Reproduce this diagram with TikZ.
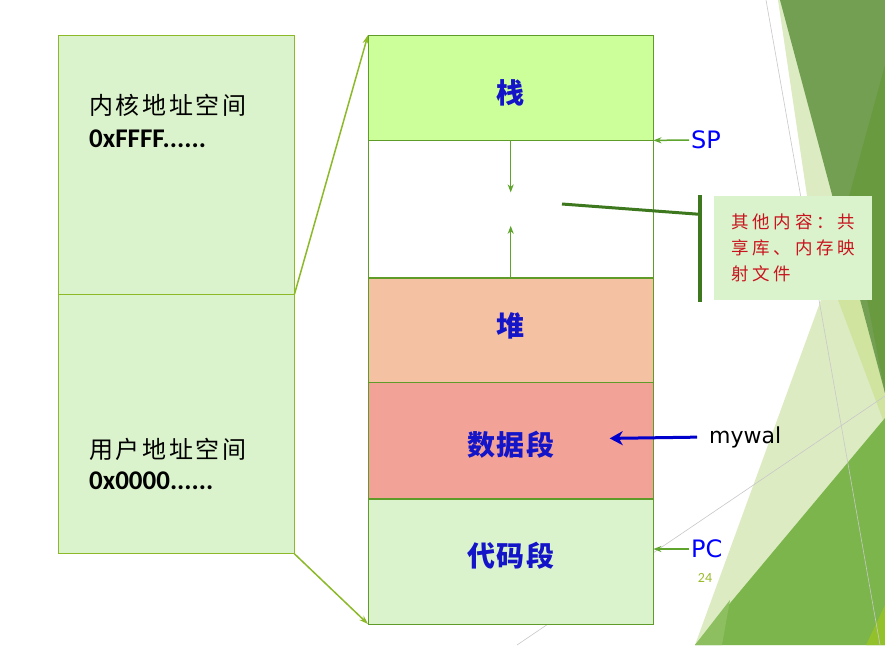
\documentclass[tikz,border=0pt]{standalone}
\usepackage{fontspec}
\setmainfont{Liberation Sans}
\newfontfamily\cjk{Noto Sans CJK SC}[LetterSpace=5]
\newfontfamily\cjkwide{Noto Sans CJK SC}[LetterSpace=11]
\newfontfamily\cjknote{Noto Sans CJK SC}[LetterSpace=22]
\newfontfamily\calibri{Carlito}
\newfontfamily\regfont{DejaVu Sans}
\usetikzlibrary{positioning,calc,arrows.meta}

\definecolor{boxgreen}{RGB}{219,243,204}
\definecolor{stackline}{RGB}{95,155,40}
\definecolor{linkline}{RGB}{140,185,40}
\definecolor{stackfill}{RGB}{204,255,153}
\definecolor{heapfill}{RGB}{244,194,163}
\definecolor{datafill}{RGB}{242,162,150}
\definecolor{labelblue}{RGB}{20,20,200}
\definecolor{growgreen}{RGB}{95,165,45}
\definecolor{bargreen}{RGB}{62,120,30}
\definecolor{notered}{RGB}{200,20,30}
\definecolor{pagenum}{RGB}{155,187,43}
\definecolor{bglight}{RGB}{221,235,195}
\definecolor{bgstrip}{RGB}{208,228,160}
\definecolor{bgdark}{RGB}{115,159,83}
\definecolor{bgdarker}{RGB}{106,154,63}
\definecolor{bggreen}{RGB}{123,181,75}
\definecolor{bgpale}{RGB}{141,191,97}
\definecolor{bgcorner}{RGB}{147,193,44}
\definecolor{bgline}{RGB}{200,200,200}

\begin{document}
\begin{tikzpicture}[x=1pt,y=-1pt,node distance=0pt,
  seg/.style={draw=stackline, minimum width=285pt, inner sep=0pt},
  seglabel/.style={font=\cjk\bfseries\fontsize{28}{28}\selectfont, text=labelblue},
  half/.style={draw=linkline, fill=boxgreen, minimum width=236pt,
    minimum height=259pt, inner sep=0pt},
  cnlabel/.style={inner sep=0pt, font=\cjkwide\fontsize{24}{24}\selectfont},
  hexlabel/.style={inner sep=0pt, font=\calibri\bfseries\fontsize{27}{27}\selectfont},
  reg/.style={inner sep=2pt, text=blue, font=\regfont\fontsize{24}{24}\selectfont},
  growarrow/.style={draw=growgreen, line width=1.5pt, -{Stealth[length=8pt,width=6pt,inset=2.5pt]}},
  link/.style={draw=linkline, line width=1.5pt, -{Stealth[length=9pt,width=6pt]}}]
    \useasboundingbox (0,0) rectangle (885,645);
    \fill[white] (0,0) rectangle (885,645);
    % slide background
    \fill[bglight] (778,0) -- (822,297) -- (695,645) -- (885,645) -- (885,0) -- cycle;
    \fill[bgstrip] (832,195) -- (885,393) -- (885,425) -- (838,300) -- cycle;
    \fill[bgdark] (780,0) -- (885,0) -- (885,393) -- cycle;
    \fill[bgdarker] (885,65) -- (848,200) -- (885,393) -- cycle;
    \fill[bggreen] (885,418) -- (885,645) -- (695,645) -- cycle;
    \fill[bgpale] (730,600) -- (695,645) -- (722,645) -- cycle;
    \fill[bgcorner] (885,605) -- (866,645) -- (885,645) -- cycle;
    \draw[bgline, line width=0.6pt] (766,0) -- (880,645);
    \draw[bgline, line width=0.6pt] (517,645) -- (885,396);
    %
    \node[half, anchor=north west] (kernel) at (58,35) {};
    \node[half, below=of kernel] (user) {};
    \node[cnlabel, anchor=north west] (kernel_cn) at ($(kernel.north west)+(31,59)$) {内核地址空间};
    \node[hexlabel, below=13pt of kernel_cn.south west, anchor=north west] (kernel_hex) {0xFFFF......};
    \node[cnlabel, anchor=north west] (user_cn) at ($(user.north west)+(31,144)$) {用户地址空间};
    \node[hexlabel, below=10pt of user_cn.south west, anchor=north west] (user_hex) {0x0000......};
    %
    \node[seg, fill=stackfill, minimum height=105pt, anchor=north west,
      label={[seglabel, yshift=-5pt]center:栈}] (stack) at (368,35) {};
    \node[seg, fill=white, minimum height=137pt, below=of stack] (gap) {};
    \node[seg, fill=heapfill, minimum height=104pt, below=of gap,
      label={[seglabel, yshift=4pt]center:堆}] (heap) {};
    \node[seg, fill=datafill, minimum height=116pt, below=of heap,
      label={[seglabel, yshift=-4pt]center:数据段}] (data) {};
    \node[seg, fill=boxgreen, minimum height=125pt, below=of data,
      label={[seglabel, yshift=6pt]center:代码段}] (code) {};
    %
    \draw[link] (kernel.south east) -- (stack.north west);
    \draw[link] (user.south east) -- (code.south west);
    \coordinate (down_tip) at ($(stack.south)+(0,52)$);
    \coordinate (up_tip) at ($(heap.north)+(0,-52)$);
    \draw[growarrow] (stack.south) -- (down_tip);
    \draw[growarrow] (heap.north) -- (up_tip);
    %
    \node[reg, anchor=west] (sp) at (689,140) {SP};
    \node[reg, anchor=west] (pc) at (689,549) {PC};
    \draw[growarrow] (sp.west) -- (stack.south east);
    \draw[growarrow] (pc.west) -- (pc.west -| code.east);
    \node[reg, text=black, font=\regfont\fontsize{22}{22}\selectfont, anchor=west] (mywal) at (707,437) {mywal};
    \coordinate (data_ptr) at ($(data.center)+(99,-2)$);
    \draw[blue!80!black, line width=3pt, shorten <=10pt,
      -{Stealth[length=13pt,width=14pt,inset=4pt]}] (mywal.west) -- (data_ptr);
    \node[font=\calibri\fontsize{14}{14}\selectfont, text=pagenum] (page_no) at (705,578) {24};
    %
    \node[fill=boxgreen, minimum width=158pt, minimum height=104pt, align=left,
      text=notered, font=\cjknote\fontsize{17.5}{26}\selectfont, anchor=north west]
      (note) at (714,196) {其他内容：共\\享库、内存映\\射文件};
    \coordinate (bar_top) at ($(note.north west)+(-14,-1)$);
    \coordinate (bar_bot) at ($(note.south west)+(-14,2)$);
    \coordinate (note_from) at (562,204);
    \draw[bargreen, line width=4pt] (bar_top) -- (bar_bot);
    \draw[bargreen, line width=3pt] (note_from) -- ($(bar_top)!0.18!(bar_bot)$);
\end{tikzpicture}
\end{document}
